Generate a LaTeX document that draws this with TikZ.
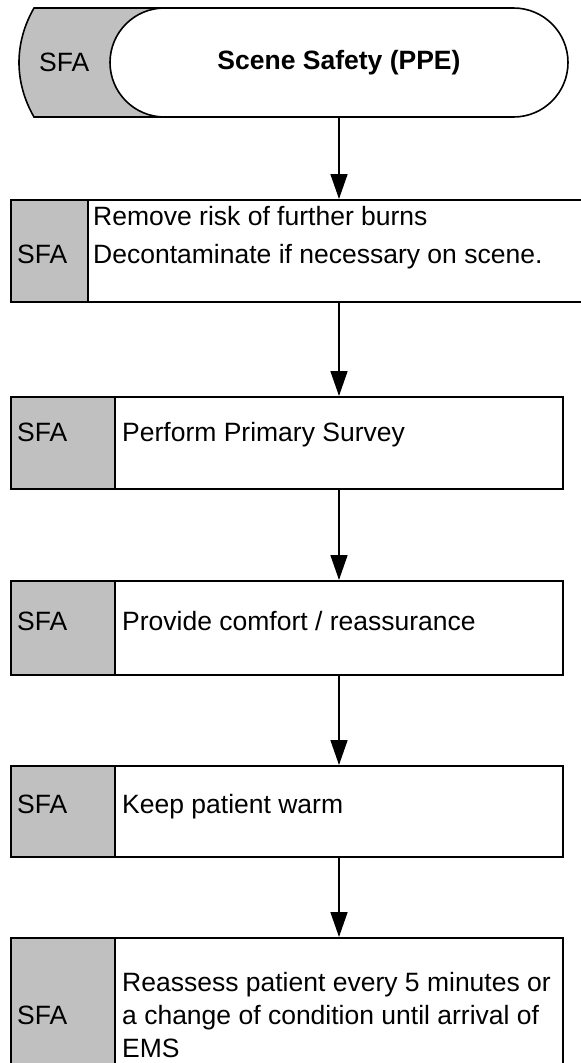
\documentclass[tikz,border=0pt]{standalone}
\usepackage{fontspec}
\setmainfont{Liberation Sans}
\usetikzlibrary{shapes.misc,arrows.meta}
\definecolor{sfagray}{RGB}{192,192,192}
\begin{document}
\begin{tikzpicture}[x=1pt,y=-1pt,
  outline/.style={draw=black,line width=1.6pt},
  stepbox/.style={outline,fill=white,rectangle,inner sep=0pt,anchor=north west},
  tagcol/.style={outline,fill=sfagray,rectangle,inner sep=0pt,anchor=north west},
  txt/.style={inner sep=0pt,anchor=base west,font=\fontsize{26.5}{32}\selectfont},
  flow/.style={line width=1.6pt,-{Triangle[length=25pt,width=17pt]}}]
\useasboundingbox (0,0) rectangle (581,1063);

% start terminator: grey tab behind a white stadium
\filldraw[outline,fill=sfagray] (34,8) -- (220,8) -- (220,117) -- (34,117)
  .. controls (14,82) and (14,43) .. (34,8) -- cycle;
\node[outline,fill=white,rounded rectangle,inner sep=0pt,
  minimum width=458pt,minimum height=109pt,
  font=\fontsize{26.5}{32}\selectfont\bfseries] (term) at (339,62.5) {Scene Safety (PPE)};
\node[txt] (t0) at (39,71) {SFA};

% step 1
\node[stepbox,minimum width=574pt,minimum height=102pt] (b1) at (10,199) {};
\node[tagcol,minimum width=77pt,minimum height=102pt] (g1) at (10,199) {};
\node[txt] (s1) at (17,263) {SFA};
\node[txt] (l1a) at (93,225) {Remove risk of further burns};
\node[txt] (l1b) at (93,263) {Decontaminate if necessary on scene.};

% step 2
\node[stepbox,minimum width=552pt,minimum height=92pt] (b2) at (10,396) {};
\node[tagcol,minimum width=104pt,minimum height=92pt] (g2) at (10,396) {};
\node[txt] (s2) at (17,441) {SFA};
\node[txt] (l2) at (122,441) {Perform Primary Survey};

% step 3
\node[stepbox,minimum width=552pt,minimum height=94pt] (b3) at (10,580) {};
\node[tagcol,minimum width=104pt,minimum height=94pt] (g3) at (10,580) {};
\node[txt] (s3) at (17,630) {SFA};
\node[txt] (l3) at (122,630) {Provide comfort / reassurance};

% step 4
\node[stepbox,minimum width=552pt,minimum height=91pt] (b4) at (10,765) {};
\node[tagcol,minimum width=104pt,minimum height=91pt] (g4) at (10,765) {};
\node[txt] (s4) at (17,813) {SFA};
\node[txt] (l4) at (122,813) {Keep patient warm};

% step 5 (runs past the lower edge)
\node[stepbox,minimum width=552pt,minimum height=170pt] (b5) at (10,937) {};
\node[tagcol,minimum width=104pt,minimum height=170pt] (g5) at (10,937) {};
\node[txt] (s5) at (17,1024) {SFA};
\node[txt] (l5a) at (122,991) {Reassess patient every 5 minutes or};
\node[txt] (l5b) at (122,1024) {a change of condition until arrival of};
\node[txt] (l5c) at (122,1057) {EMS};

% connectors
\draw[flow] (term.south) -- (term.south |- b1.north);
\draw[flow] (term.south |- b1.south) -- (term.south |- b2.north);
\draw[flow] (term.south |- b2.south) -- (term.south |- b3.north);
\draw[flow] (term.south |- b3.south) -- (term.south |- b4.north);
\draw[flow] (term.south |- b4.south) -- (term.south |- b5.north);
\end{tikzpicture}
\end{document}
